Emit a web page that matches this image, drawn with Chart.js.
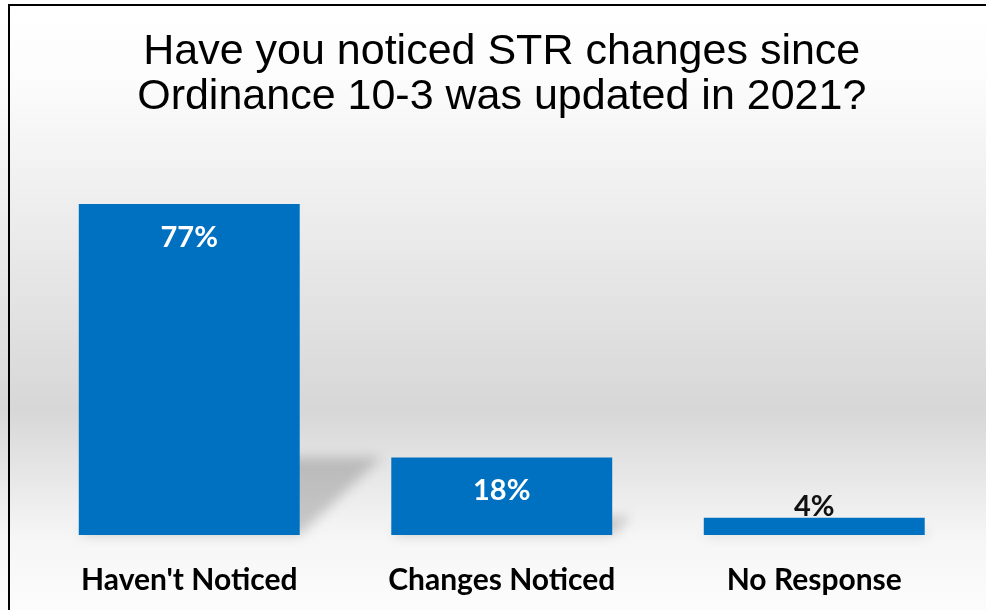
<!DOCTYPE html>
<html>
<head>
<meta charset="utf-8">
<script src="https://cdn.jsdelivr.net/npm/chart.js@4"></script>
<style>
  html, body { margin: 0; padding: 0; background: #fff; overflow: hidden; }
  canvas { display: block; }
</style>
</head>
<body>
<canvas id="strChart" width="986" height="640"></canvas>
<script>
const categories = ["Haven't Noticed", "Changes Noticed", "No Response"];
const percentages = [77, 18, 4];
const titleLines = ["Have you noticed STR changes since", "Ordinance 10-3 was updated in 2021?"];

// page background + the frame lines at the top and left
const backdrop = {
  id: "backdrop",
  beforeDraw(chart) {
    const ctx = chart.ctx;
    const grad = ctx.createLinearGradient(0, 5, 0, 610);
    grad.addColorStop(0, "#ffffff");
    grad.addColorStop(0.12, "#fcfcfc");
    grad.addColorStop(0.67, "#d7d7d7");
    grad.addColorStop(0.88, "#f6f6f6");
    grad.addColorStop(1, "#fcfcfc");
    ctx.save();
    ctx.fillStyle = grad;
    ctx.fillRect(0, 0, chart.width, chart.height);
    ctx.fillStyle = "#000";
    ctx.fillRect(8, 4, chart.width - 8, 2);
    ctx.fillRect(8, 4, 2, chart.height - 4);
    ctx.restore();
  }
};

// skewed perspective shadow behind each bar
const barShadow = {
  id: "barShadow",
  beforeDatasetsDraw(chart) {
    const ctx = chart.ctx;
    const bars = chart.getDatasetMeta(0).data;
    ctx.save();
    ctx.filter = "blur(6px)";
    ctx.fillStyle = "rgba(0,0,0,0.18)";
    bars.forEach((bar) => {
      const half = bar.width / 2;
      const sh = (bar.base - bar.y) * 0.235;
      const dx = sh * 1.05;
      ctx.beginPath();
      ctx.moveTo(bar.x - half, bar.base);
      ctx.lineTo(bar.x + half, bar.base);
      ctx.lineTo(bar.x + half + dx, bar.base - sh);
      ctx.lineTo(bar.x - half + dx, bar.base - sh);
      ctx.closePath();
      ctx.fill();
    });
    ctx.restore();
  }
};

// value labels: inside the bar when tall enough, above it otherwise
const valueLabels = {
  id: "valueLabels",
  afterDatasetsDraw(chart) {
    const ctx = chart.ctx;
    const bars = chart.getDatasetMeta(0).data;
    ctx.save();
    ctx.font = "bold 29px Lato";
    ctx.textAlign = "center";
    ctx.textBaseline = "alphabetic";
    bars.forEach((bar, i) => {
      const text = percentages[i] + "%";
      if (bar.base - bar.y > 50) {
        ctx.fillStyle = "#ffffff";
        ctx.fillText(text, bar.x, bar.y + 42.7);
      } else {
        ctx.fillStyle = "#111111";
        ctx.fillText(text, bar.x, bar.y - 2);
      }
    });
    ctx.restore();
  }
};

new Chart(document.getElementById("strChart").getContext("2d"), {
  type: "bar",
  data: {
    labels: categories,
    datasets: [{
      data: percentages,
      backgroundColor: "#0070c0",
      borderWidth: 0,
      barPercentage: 0.707,
      categoryPercentage: 1
    }]
  },
  options: {
    responsive: false,
    devicePixelRatio: 1,
    animation: false,
    layout: {
      padding: { left: 33, right: 15.5, top: 0, bottom: 15 }
    },
    scales: {
      x: {
        grid: { display: false, drawTicks: false },
        border: { display: false },
        ticks: {
          color: "#000",
          padding: 27,
          font: { family: "Lato", size: 30, weight: "bold" }
        }
      },
      y: {
        display: false,
        min: 0,
        max: 77
      }
    },
    plugins: {
      legend: { display: false },
      tooltip: { enabled: false },
      title: {
        display: true,
        text: titleLines,
        color: "#000",
        font: { family: "'Liberation Sans', Arial", size: 43, weight: "normal", lineHeight: 45 / 43 },
        padding: { top: 30, bottom: 84 }
      }
    }
  },
  plugins: [backdrop, barShadow, valueLabels]
});
</script>
</body>
</html>
